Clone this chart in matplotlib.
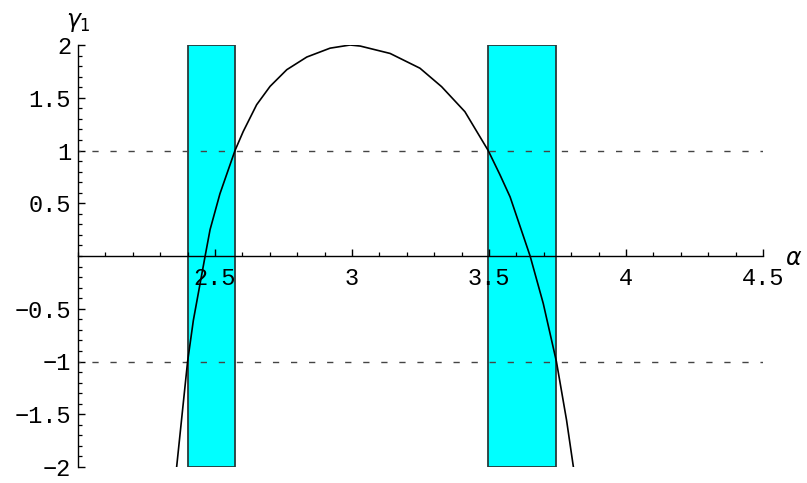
import numpy as np
import matplotlib.pyplot as plt
from matplotlib.ticker import MultipleLocator, FixedLocator

# gamma_1 as a function of alpha (sampled curve)
alpha = [2.360, 2.400, 2.421, 2.464, 2.482, 2.518, 2.573, 2.603, 2.652, 2.701,
         2.762, 2.835, 2.920, 2.993, 3.030, 3.139, 3.248, 3.327, 3.412, 3.497,
         3.540, 3.577, 3.650, 3.698, 3.746, 3.783, 3.808]
gamma1 = [-2.00, -1.00, -0.61, 0.00, 0.25, 0.59, 1.00, 1.18, 1.434, 1.608,
          1.766, 1.886, 1.97, 2.00, 1.99, 1.92, 1.78, 1.605, 1.368, 1.00,
          0.77, 0.56, 0.00, -0.45, -1.00, -1.555, -2.00]

# alpha intervals where |gamma_1| <= 1
bands = [(2.400, 2.573), (3.497, 3.746)]
levels = [1, -1]

xticks = [2.5, 3, 3.5, 4, 4.5]
xlabels = ['2.5', '3', '3.5', '4', '4.5']
yticks = [-2, -1.5, -1, -0.5, 0.5, 1, 1.5, 2]
ylabels = ['\u22122', '\u22121.5', '\u22121', '\u22120.5', '0.5', '1', '1.5', '2']

fig = plt.figure(figsize=(8.07, 4.83), dpi=100)
ax = fig.add_axes([78 / 807, 1 - 467 / 483, (763 - 78) / 807, (467 - 45) / 483])

for a, b in bands:
    ax.axvspan(a, b, ymin=0, ymax=1, facecolor='#00ffff', edgecolor='#2a3a3a',
               linewidth=1.3, zorder=1)

for lv in levels:
    ax.plot([2, 4.5], [lv, lv], color='#444444', linestyle=(3, (4.5, 8.5)),
            linewidth=1.0, zorder=2)

ax.plot(alpha, gamma1, color='black', linewidth=1.2, zorder=3)

ax.set_xlim(2, 4.5)
ax.set_ylim(-2, 2)

ax.spines['left'].set_position(('data', 2))
ax.spines['bottom'].set_position(('data', 0))
ax.spines['top'].set_visible(False)
ax.spines['right'].set_visible(False)
for s in ('left', 'bottom'):
    ax.spines[s].set_linewidth(1.0)
    ax.spines[s].set_zorder(4)

ax.xaxis.set_major_locator(FixedLocator(xticks))
ax.set_xticklabels(xlabels)
ax.yaxis.set_major_locator(FixedLocator(yticks))
ax.set_yticklabels(ylabels)
ax.xaxis.set_minor_locator(MultipleLocator(0.1))
ax.yaxis.set_minor_locator(MultipleLocator(0.1))

ax.tick_params(axis='both', which='major', direction='in', length=5, width=1.0)
ax.tick_params(axis='both', which='minor', direction='in', length=3, width=0.9)
ax.tick_params(axis='x', which='major', pad=8)
ax.tick_params(axis='y', which='major', pad=5)
for lbl in ax.get_xticklabels() + ax.get_yticklabels():
    lbl.set_fontfamily('Liberation Mono')
    lbl.set_fontsize(17)

ax.text(4.58, -0.02, r'$\alpha$', fontsize=17, ha='left', va='center',
        transform=ax.transData, clip_on=False)
ax.text(2.0, 2.1, r'$\gamma_1$', fontsize=17, ha='center', va='bottom',
        transform=ax.transData, clip_on=False)

fig.savefig('out.png', dpi=100)
